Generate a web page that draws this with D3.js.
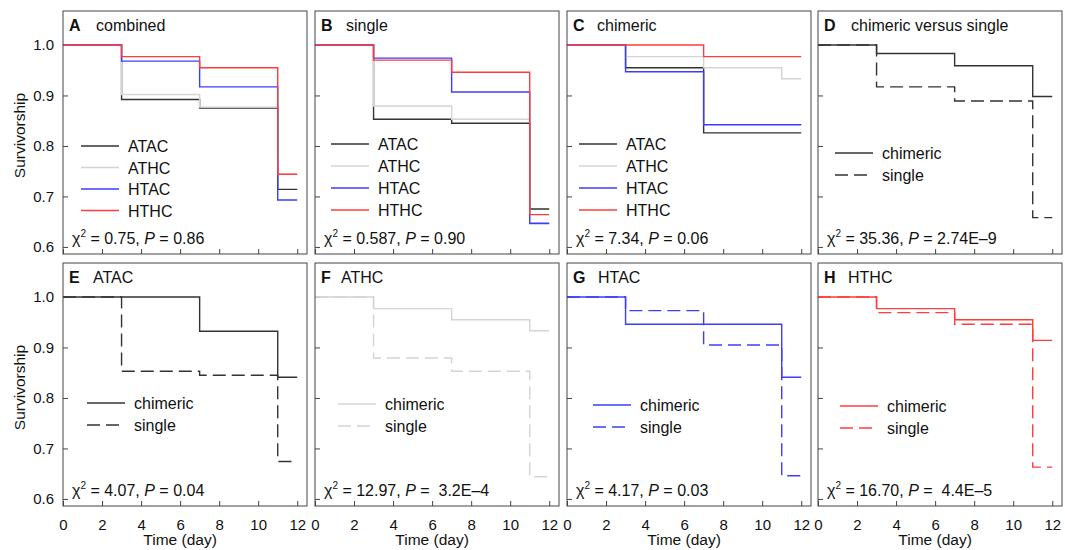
<!DOCTYPE html>
<html>
<head>
<meta charset="utf-8">
<script src="https://cdn.jsdelivr.net/npm/d3@7"></script>
<style>
  body { margin: 0; background: #fff; }
  svg { font-family: "Liberation Sans", Arial, sans-serif; }
</style>
</head>
<body>
<svg id="chart"></svg>
<script>
// Days at which survivorship is recorded
const days = [0, 3, 7, 11, 12];
const yTicks = [0.6, 0.7, 0.8, 0.9, 1.0];
const xTicks = [0, 2, 4, 6, 8, 10, 12];

const groups = ["ATAC", "ATHC", "HTAC", "HTHC"];
const groupColors = ["#333333", "#d4d4d4", "#3c3cff", "#ff3c3c"];

// A combined
const combinedATAC = [1, 0.892, 0.875, 0.714, 0.714];
const combinedATHC = [1, 0.902, 0.877, 0.744, 0.744];
const combinedHTAC = [1, 0.968, 0.917, 0.693, 0.693];
const combinedHTHC = [1, 0.977, 0.955, 0.744, 0.744];
// B single
const singleATAC = [1, 0.853, 0.845, 0.675, 0.675];
const singleATHC = [1, 0.879, 0.853, 0.645, 0.645];
const singleHTAC = [1, 0.974, 0.907, 0.647, 0.647];
const singleHTHC = [1, 0.970, 0.946, 0.664, 0.664];
// C chimeric
const chimericATAC = [1, 0.955, 0.826, 0.826, 0.826];
const chimericATHC = [1, 0.977, 0.955, 0.933, 0.933];
const chimericHTAC = [1, 0.947, 0.842, 0.842, 0.842];
const chimericHTHC = [1, 1, 0.977, 0.977, 0.977];
// D chimeric versus single
const allChimeric = [1, 0.983, 0.959, 0.898, 0.898];
const allSingle = [1, 0.917, 0.889, 0.658, 0.658];
// E-H per group: chimeric vs single
const atacChimeric = [1, 1, 0.932, 0.841, 0.841];
const atacSingle = [1, 0.853, 0.845, 0.674, 0.674];
const athcChimeric = [1, 0.977, 0.955, 0.933, 0.933];
const athcSingle = [1, 0.879, 0.853, 0.644, 0.644];
const htacChimeric = [1, 0.946, 0.946, 0.841, 0.841];
const htacSingle = [1, 0.973, 0.905, 0.646, 0.646];
const hthcChimeric = [1, 0.977, 0.955, 0.914, 0.914];
const hthcSingle = [1, 0.969, 0.946, 0.663, 0.663];

const panelLetters = ["A", "B", "C", "D", "E", "F", "G", "H"];
const panelTitles = ["combined", "single", "chimeric", "chimeric versus single", "ATAC", "ATHC", "HTAC", "HTHC"];
const chiValues = ["0.75", "0.587", "7.34", "35.36", "4.07", "12.97", "4.17", "16.70"];
const pValues = ["0.86", "0.90", "0.06", "2.74E\u20139", "0.04", "\u00a03.2E\u20134", "0.03", "\u00a04.4E\u20135"];
const compareLabels = ["chimeric", "single"];

const width = 1065, height = 550;
const svg = d3.select("#chart").attr("width", width).attr("height", height);

const colX = [63, 315, 567, 818];
const rowY = [11, 263];
const pw = 244, ph = 243;
const titleOffsets = [33, 31, 30, 33, 30, 26, 31, 30];
const dash = "13,6";

const x = d3.scaleLinear().domain([0, 12.5]).range([0, pw]);
const y = d3.scaleLinear().domain([0.586, 1.0673]).range([ph, 0]);
const line = d3.line().x((d, i) => x(days[i])).y(d => y(d)).curve(d3.curveStepAfter);

const panels = [
  { series: [combinedATAC, combinedATHC, combinedHTAC, combinedHTHC], colors: groupColors, dashed: [false, false, false, false], labels: groups },
  { series: [singleATAC, singleATHC, singleHTAC, singleHTHC], colors: groupColors, dashed: [false, false, false, false], labels: groups },
  { series: [chimericATAC, chimericATHC, chimericHTAC, chimericHTHC], colors: groupColors, dashed: [false, false, false, false], labels: groups },
  { series: [allChimeric, allSingle], colors: ["#333333", "#333333"], dashed: [false, true], labels: compareLabels },
  { series: [atacChimeric, atacSingle], colors: [groupColors[0], groupColors[0]], dashed: [false, true], labels: compareLabels },
  { series: [athcChimeric, athcSingle], colors: [groupColors[1], groupColors[1]], dashed: [false, true], labels: compareLabels },
  { series: [htacChimeric, htacSingle], colors: [groupColors[2], groupColors[2]], dashed: [false, true], labels: compareLabels },
  { series: [hthcChimeric, hthcSingle], colors: [groupColors[3], groupColors[3]], dashed: [false, true], labels: compareLabels }
];

// legend placement (relative to panel)
const legendBox = [
  { x0: 18, y0: 135, dy: 21.5 }, { x0: 16, y0: 133, dy: 22 }, { x0: 12, y0: 133, dy: 22 }, { x0: 17, y0: 142, dy: 22 },
  { x0: 24, y0: 140, dy: 22 }, { x0: 23, y0: 141, dy: 22 }, { x0: 26, y0: 142, dy: 22 }, { x0: 22, y0: 143, dy: 22 }
];

panels.forEach((p, k) => {
  const col = k % 4, row = Math.floor(k / 4);
  const g = svg.append("g").attr("transform", `translate(${colX[col]},${rowY[row]})`);

  // axes with inward ticks
  const yAxis = d3.axisLeft(y).tickValues(yTicks).tickSize(-5).tickPadding(9)
    .tickFormat(col === 0 ? d3.format(".1f") : () => "");
  const ya = g.append("g").call(yAxis);
  const xAxis = d3.axisBottom(x).tickValues(xTicks).tickSize(-5).tickPadding(13)
    .tickFormat(row === 1 ? d3.format("d") : () => "");
  const xa = g.append("g").attr("transform", `translate(0,${ph})`).call(xAxis);
  [ya, xa].forEach(a => {
    a.select(".domain").remove();
    a.selectAll(".tick line").attr("stroke", "#444");
    a.selectAll("text").attr("font-size", 15).attr("fill", "#111").attr("font-family", "Liberation Sans, Arial, sans-serif");
  });

  // curves
  p.series.forEach((s, i) => {
    g.append("path").datum(s)
      .attr("d", line)
      .attr("fill", "none")
      .attr("stroke", p.colors[i])
      .attr("stroke-width", 1.4)
      .attr("stroke-dasharray", p.dashed[i] ? dash : null);
  });

  // frame
  g.append("rect").attr("width", pw).attr("height", ph)
    .attr("fill", "none").attr("stroke", "#444").attr("stroke-width", 1);

  // title
  const t = g.append("text").attr("x", 6).attr("y", 20).attr("font-size", 16).attr("fill", "#111");
  t.append("tspan").attr("font-weight", "bold").text(panelLetters[k]);
  t.append("tspan").attr("x", titleOffsets[k]).text(panelTitles[k]);

  // legend
  const lb = legendBox[k];
  p.labels.forEach((lab, i) => {
    const ly = lb.y0 + i * lb.dy;
    g.append("line").attr("x1", lb.x0).attr("x2", lb.x0 + 38).attr("y1", ly).attr("y2", ly)
      .attr("stroke", p.colors[i]).attr("stroke-width", 1.4)
      .attr("stroke-dasharray", p.dashed[i] ? dash : null);
    g.append("text").attr("x", lb.x0 + 47).attr("y", ly + 6).attr("font-size", 16).attr("fill", "#111").text(lab);
  });

  // statistic
  const st = g.append("text").attr("x", 9).attr("y", ph - 10).attr("font-size", 16).attr("fill", "#111");
  st.append("tspan").text("\u03c7");
  st.append("tspan").attr("font-size", 10).attr("dy", -7).text("2");
  st.append("tspan").attr("dy", 7).text(` = ${chiValues[k]}, `);
  st.append("tspan").attr("font-style", "italic").text("P");
  st.append("tspan").text(` = ${pValues[k]}`);
});

// y labels
rowY.forEach(r => {
  svg.append("text")
    .attr("transform", `translate(25,${r + ph / 2 + 3}) rotate(-90)`)
    .attr("text-anchor", "middle").attr("font-size", 15.5).attr("fill", "#111")
    .text("Survivorship");
});

// x labels
colX.forEach(c => {
  svg.append("text")
    .attr("x", c + x(6)).attr("y", 545)
    .attr("text-anchor", "middle").attr("font-size", 15.5).attr("fill", "#111")
    .text("Time (day)");
});
</script>
</body>
</html>
